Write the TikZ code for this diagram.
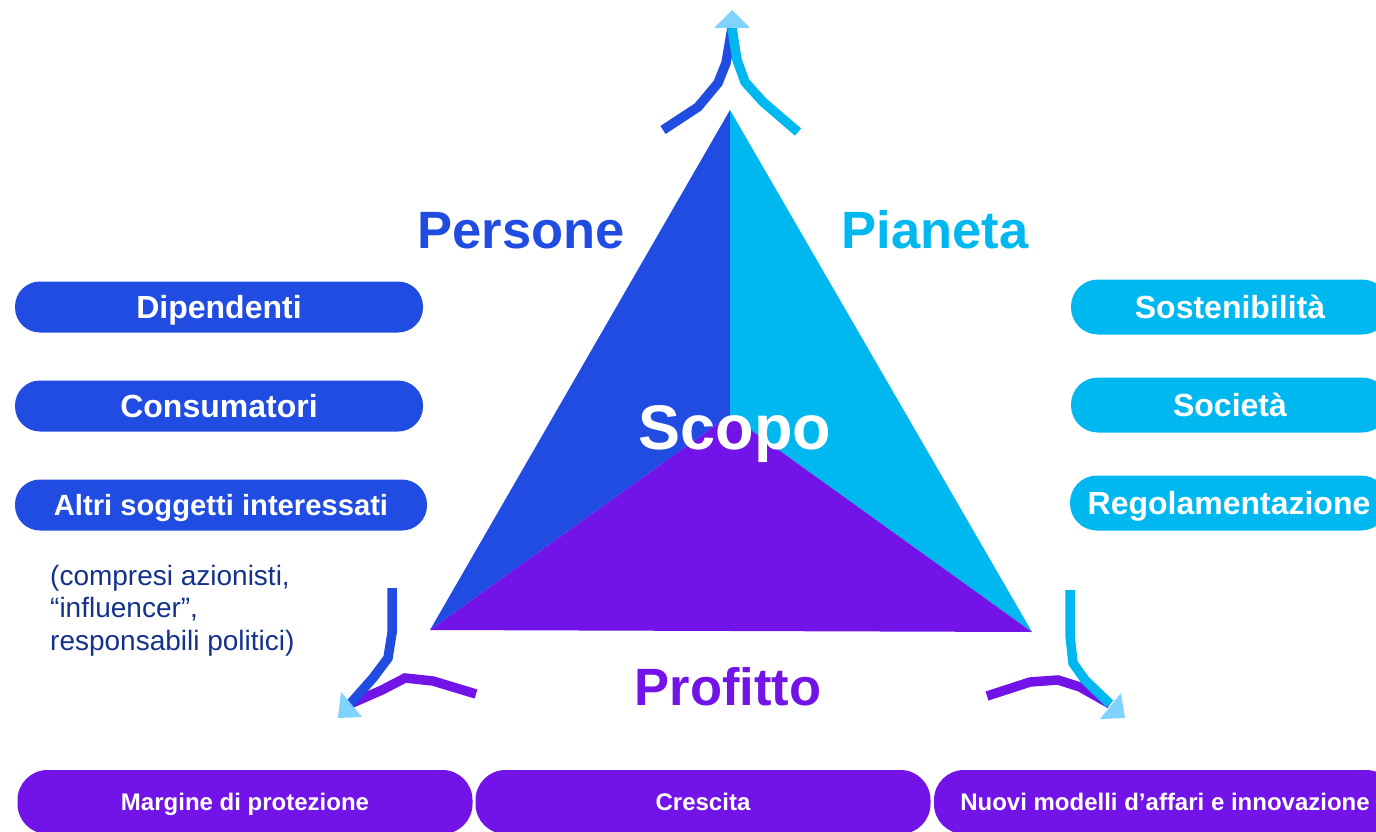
\documentclass[tikz,border=0pt]{standalone}
\usepackage{fontspec}
\setmainfont{Liberation Sans}
\usepackage{tikz}
\definecolor{pblue}{RGB}{32,76,226}
\definecolor{pcyan}{RGB}{0,184,240}
\definecolor{ppurple}{RGB}{114,20,232}
\definecolor{plight}{RGB}{128,210,255}
\definecolor{pnavy}{RGB}{20,50,140}

\begin{document}
\begin{tikzpicture}[x=1pt, y=-1pt,
  pill/.style={inner sep=0pt, text depth=0pt, text height=22.9pt, rounded corners=25pt,
    minimum height=51pt, text=white, font=\bfseries\fontsize{32}{32}\selectfont},
  lpill/.style={pill, fill=pblue, minimum width=408pt},
  rpill/.style={pill, fill=pcyan, minimum width=318pt, minimum height=55pt, rounded corners=27pt},
  bpill/.style={pill, fill=ppurple, minimum width=455pt, minimum height=64pt, rounded corners=30pt,
    text height=17.2pt, font=\bfseries\fontsize{24}{24}\selectfont},
  head/.style={inner sep=0pt, text depth=0pt, text height=37.6pt,
    font=\bfseries\fontsize{52.5}{52.5}\selectfont},
  band/.style={line width=9.5pt}]
  \useasboundingbox (0,0) rectangle (1376,832);
  \clip (0,0) rectangle (1376,832);

  % triangle
  \coordinate (top) at (730,110);
  \coordinate (bl) at (430,630);
  \coordinate (br) at (1032,632);
  \coordinate (mid) at (730,415);
  \fill[pblue] (top) -- (bl) -- (mid) -- cycle;
  \fill[pcyan] (top) -- (br) -- (mid) -- cycle;
  \fill[ppurple] (bl) -- (mid) -- (br) -- cycle;

  \node[head, text=pblue] (pers) at (521,230) {Persone};
  \node[head, text=pcyan] (pian) at (935,230) {Pianeta};
  \node[head, text=ppurple] (prof) at (728,687) {Profitto};
  \node[head, text height=45.1pt, font=\bfseries\fontsize{63}{63}\selectfont, text=white]
    (scopo) at (735,427) {Scopo};

  % pills
  \node[lpill] (dip) at (219,307) {Dipendenti};
  \node[lpill] (cons) at (219,406) {Consumatori};
  \node[lpill, minimum width=412pt, text height=20.9pt, font=\bfseries\fontsize{29.2}{29.2}\selectfont]
    (altri) at (221,505) {Altri soggetti interessati};
  \node[anchor=north west, align=left, inner sep=0pt, text=pnavy,
    font=\fontsize{28}{32.5}\selectfont] (note) at (50,565)
    {(compresi azionisti,\\“influencer”,\\responsabili politici)};

  \node[rpill] (sost) at (1230,307) {Sostenibilità};
  \node[rpill] (soc) at (1230,405) {Società};
  \node[rpill] (reg) at (1229,503) {Regolamentazione};

  \node[bpill] (marg) at (245,802) {Margine di protezione};
  \node[bpill] (cresc) at (703,802) {Crescita};
  \node[bpill, minimum width=462pt] (nuovi) at (1165,802) {Nuovi modelli d’affari e innovazione};

  % arrows
  \coordinate (up) at (732,28);
  \coordinate (dl) at (350,704);
  \coordinate (dr) at (1110,704);
  \draw[band, pblue] (663,130) -- (698,107) -- (718,83) -- (726,63) -- (up);
  \draw[band, pcyan] (798,132) -- (763,102) -- (745,82) -- (737,60) -- (up);
  \fill[plight] (732,10) -- (714,28) -- (750,28) -- cycle;

  \draw[band, ppurple] (476,694) -- (433,681) -- (405,678) -- (382,690) -- (dl);
  \draw[band, pblue] (392,588) -- (392,633) -- (388,658) -- (373,678) -- (dl);
  \fill[plight] (338,718) -- (341,692) -- (362,717) -- cycle;

  \draw[band, ppurple] (987,696) -- (1030,682) -- (1058,680) -- (1080,687) -- (dr);
  \draw[band, pcyan] (1070,590) -- (1070,635) -- (1073,663) -- (1085,680) -- (dr);
  \fill[plight] (1125,718) -- (1121,693) -- (1100,719) -- cycle;
\end{tikzpicture}
\end{document}
